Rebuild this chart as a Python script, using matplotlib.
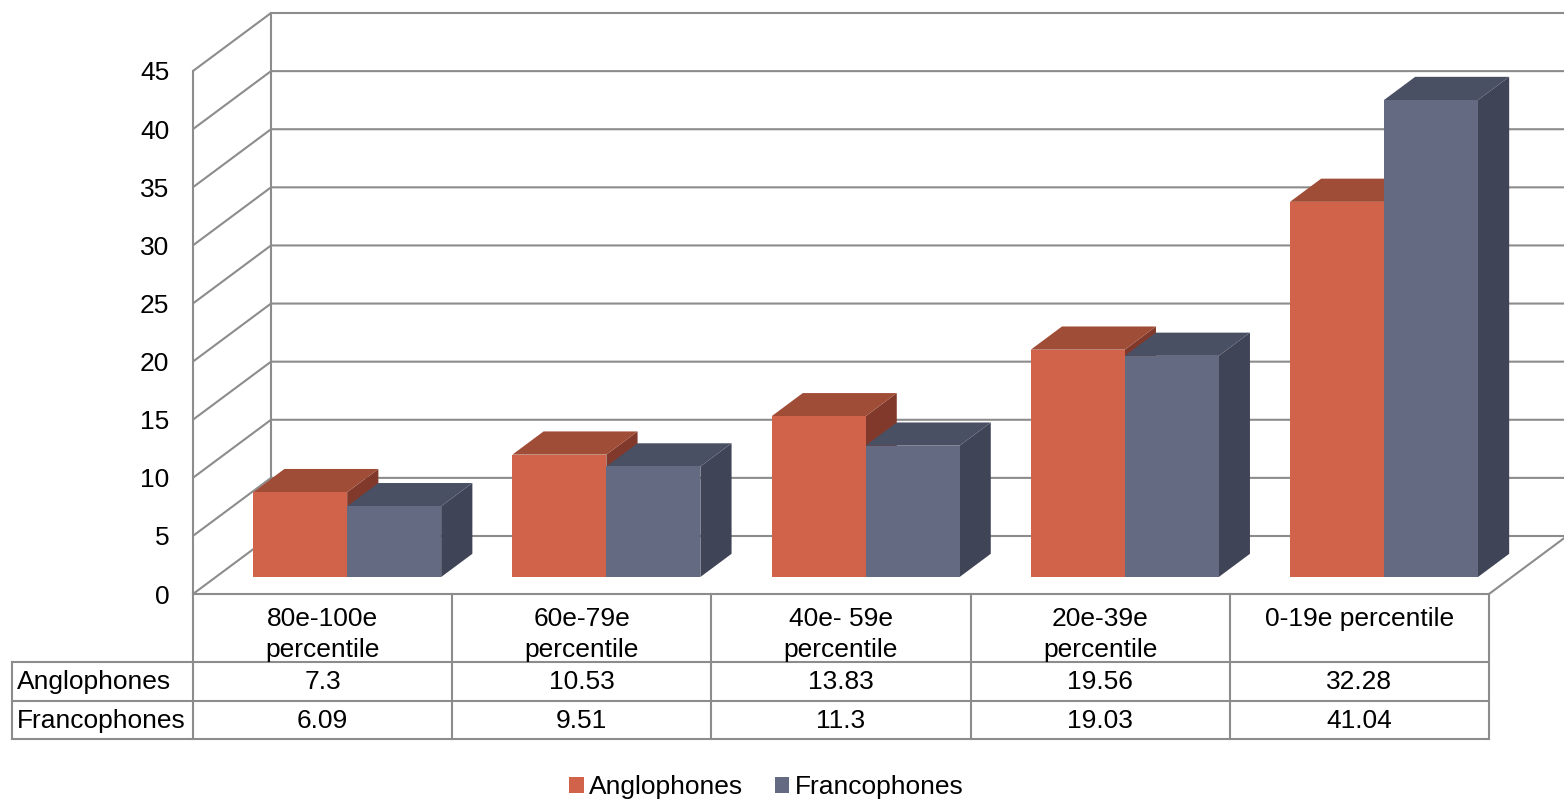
import matplotlib
matplotlib.use("Agg")
import matplotlib.pyplot as plt
from matplotlib.patches import Polygon, Patch

plt.rcParams['font.family'] = ['Liberation Sans', 'DejaVu Sans']

categories = ["80e-100e\npercentile", "60e-79e\npercentile", "40e- 59e\npercentile",
              "20e-39e\npercentile", "0-19e percentile"]
series_names = ["Anglophones", "Francophones"]
anglophones = [7.3, 10.53, 13.83, 19.56, 32.28]
francophones = [6.09, 9.51, 11.3, 19.03, 41.04]
value_labels = [["7.3", "10.53", "13.83", "19.56", "32.28"],
                ["6.09", "9.51", "11.3", "19.03", "41.04"]]
yticks = list(range(0, 50, 5))

front_cols = ["#D0634A", "#636A82"]
top_cols = ["#A04D38", "#4A5064"]
side_cols = ["#80392B", "#404457"]
grid_col = "#8C8C8C"

W, H = 1564, 801
fig = plt.figure(figsize=(W / 100, H / 100), dpi=100)
x_left, x_right = 193, 1489
y_zero, y_top = 594, 71
ax = fig.add_axes([x_left / W, 1 - y_zero / H, (x_right - x_left) / W, (y_zero - y_top) / H])
ax.set_xlim(0, 5)
ax.set_ylim(0, 45)
for s in ax.spines.values():
    s.set_visible(False)
ax.set_xticks([])
ax.set_yticks(yticks)
fs = 19
ax.tick_params(axis='y', length=0, pad=17, labelsize=fs)

# depth vector (full depth) in data units
px_x = (x_right - x_left) / 5.0
px_y = (y_zero - y_top) / 45.0
DX = 78 / px_x
DY = 58 / px_y
lw = 1.5

# walls & grid
for v in yticks:
    ax.plot([0, DX, 5 + DX], [v, v + DY, v + DY], color=grid_col, lw=lw, clip_on=False, zorder=1,
            solid_capstyle='butt')
ax.plot([DX, DX], [DY, 45 + DY], color=grid_col, lw=lw, clip_on=False, zorder=1)
ax.plot([5, 5 + DX], [0, DY], color=grid_col, lw=lw, clip_on=False, zorder=1)

# bars
w = 94 / px_x
d0y = 0.293
d0x = 0.315
dd = 0.4
data = [anglophones, francophones]
for i in range(len(categories)):
    for s in range(2):
        v = data[s][i]
        x0 = i + 0.5 - w + s * w + d0x * DX
        yb = d0y * DY
        yt = yb + v
        ddx, ddy = dd * DX, dd * DY
        z = 5 + 3 * i + s
        side = Polygon([(x0 + w, yb), (x0 + w + ddx, yb + ddy), (x0 + w + ddx, yt + ddy), (x0 + w, yt)],
                       closed=True, facecolor=side_cols[s], edgecolor='none', clip_on=False, zorder=z)
        top = Polygon([(x0, yt), (x0 + w, yt), (x0 + w + ddx, yt + ddy), (x0 + ddx, yt + ddy)],
                      closed=True, facecolor=top_cols[s], edgecolor='none', clip_on=False, zorder=z)
        front = Polygon([(x0, yb), (x0 + w, yb), (x0 + w, yt), (x0, yt)],
                        closed=True, facecolor=front_cols[s], edgecolor='none', clip_on=False, zorder=z)
        for p in (side, top, front):
            ax.add_patch(p)

# table (in data coordinates)
def ypx(p):
    return (y_zero - p) / px_y

def xpx(p):
    return (p - x_left) / px_x

r0, r1, r2, r3 = ypx(594), ypx(662), ypx(701), ypx(739)
xl = xpx(12)
tkw = dict(color=grid_col, lw=lw, clip_on=False, zorder=2, solid_capstyle='projecting')
ax.plot([0, 5], [r0, r0], **tkw)
ax.plot([xl, 5], [r1, r1], **tkw)
ax.plot([xl, 5], [r2, r2], **tkw)
ax.plot([xl, 5], [r3, r3], **tkw)
ax.plot([xl, xl], [r1, r3], **tkw)
ax.plot([0, 0], [0, 45], **tkw)
for c in range(0, 6):
    ax.plot([c, c], [r0, r3], **tkw)

for i, cat in enumerate(categories):
    ax.text(i + 0.5, ypx(607), cat, ha='center', va='top', fontsize=fs, linespacing=1.38, clip_on=False)
    for s in range(2):
        yc = ypx(682) if s == 0 else ypx(721)
        ax.text(i + 0.5, yc, value_labels[s][i], ha='center', va='center', fontsize=fs, clip_on=False)
for s in range(2):
    yc = ypx(682) if s == 0 else ypx(721)
    ax.text(xpx(17), yc, series_names[s], ha='left', va='center', fontsize=fs, clip_on=False)

handles = [Patch(facecolor=front_cols[s], edgecolor='none', label=series_names[s]) for s in range(2)]
fig.legend(handles=handles, loc='center', bbox_to_anchor=(0.49, 0.0175), ncol=2, frameon=False,
           handlelength=0.55, handleheight=0.55, handletextpad=0.2, columnspacing=1.2,
           borderpad=0, fontsize=fs)

fig.savefig("out.png", dpi=100)
